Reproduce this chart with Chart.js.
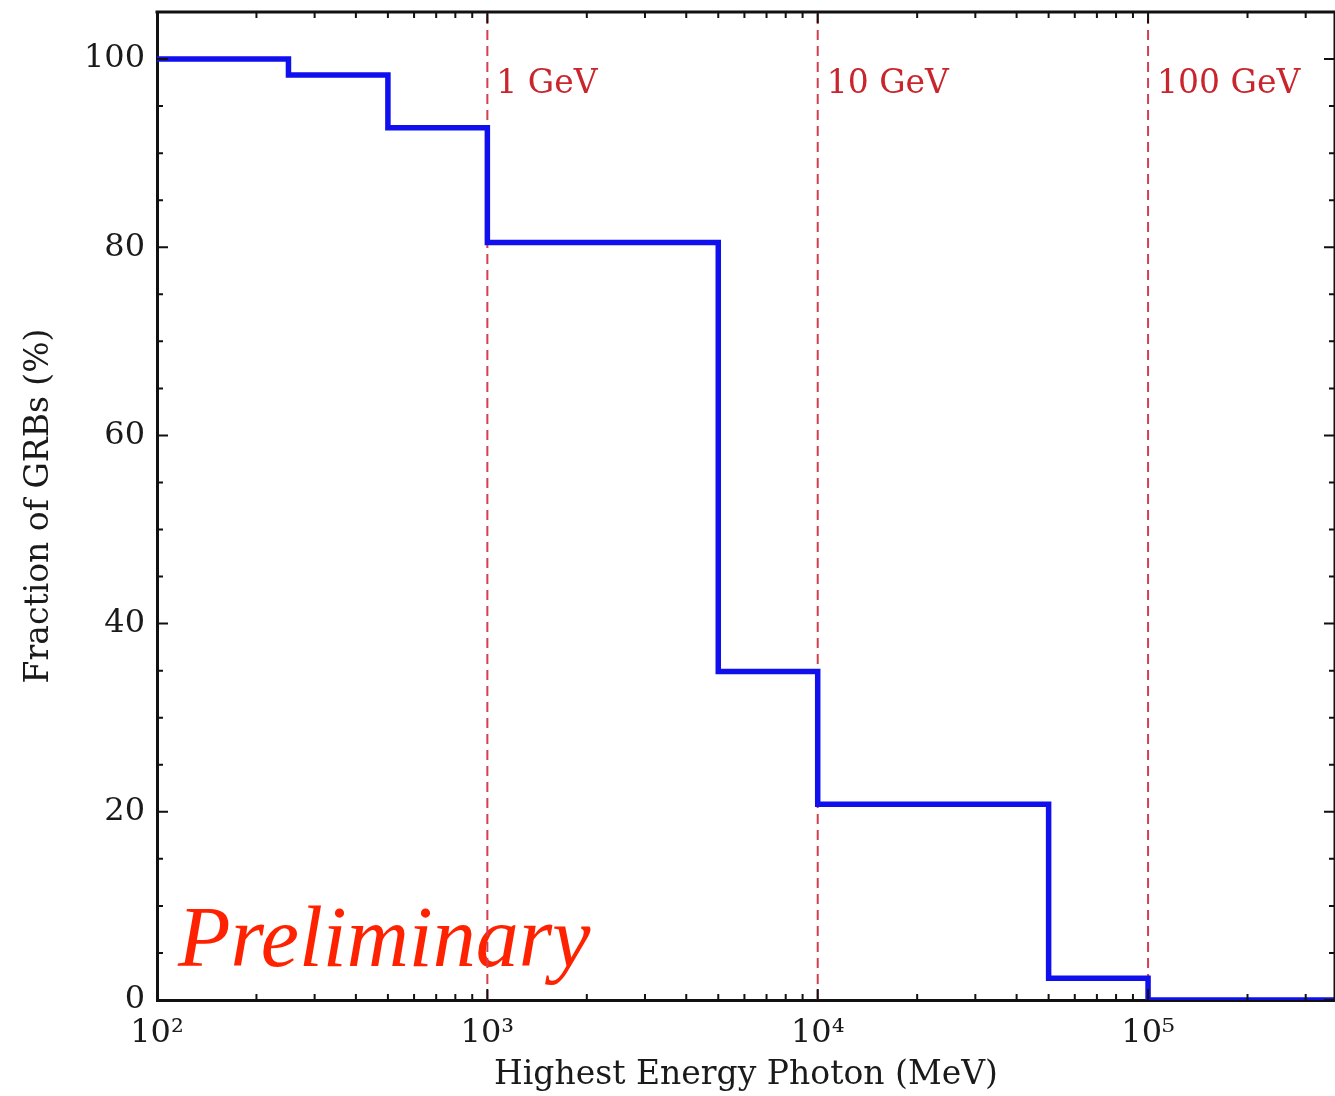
<!DOCTYPE html>
<html><head><meta charset="utf-8">
<script src="https://cdn.jsdelivr.net/npm/chart.js@4.4.1/dist/chart.umd.min.js"></script>
<style>html,body{margin:0;padding:0;background:#fff;overflow:hidden}#wrap{width:1335px;height:1096px;position:relative}</style>
</head><body><div id="wrap"><canvas id="c"></canvas></div>
<script>
// ---- data ----
const stepEdges = [100, 250, 500, 1000, 5000, 10000, 50000, 100000, 368000];
const fractionPct = [100, 98.3, 92.7, 80.5, 34.9, 20.8, 2.3, 0, 0];
const markerEnergies = [1000, 10000, 100000];
const markerLabels = ['1 GeV', '10 GeV', '100 GeV'];
const xTickValues = [100, 1000, 10000, 100000];
const xTickLabels = ['10\u00B2', '10\u00B3', '10\u2074', '10\u2075'];
const yTickValues = [0, 20, 40, 60, 80, 100];
const yMinorValues = [5, 10, 15, 25, 30, 35, 45, 50, 55, 65, 70, 75, 85, 90, 95];
const xTitle = 'Highest Energy Photon (MeV)';
const yTitle = 'Fraction of GRBs (%)';
const watermark = 'Preliminary';
const X_MIN = 100, X_MAX = 368000, Y_MIN = 0, Y_MAX = 105;

const SERIF = '"DejaVu Serif", serif';
const stepData = stepEdges.map((x, i) => ({x, y: fractionPct[i]}));
const markerSets = markerEnergies.map(e => ({
  data: [{x: e, y: Y_MIN}, {x: e, y: Y_MAX}],
  borderColor: '#d2404c', borderWidth: 2, borderDash: [10, 6],
  pointRadius: 0, showLine: true, fill: false
}));

const framePlugin = {
  id: 'frame',
  beforeDatasetsDraw(chart) {
    const {ctx, scales: {x}, chartArea} = chart;
    ctx.save();
    ctx.fillStyle = '#c8252c';
    ctx.font = '33px ' + SERIF;
    ctx.textAlign = 'left';
    ctx.textBaseline = 'middle';
    markerEnergies.forEach((e, i) => {
      ctx.fillText(markerLabels[i], x.getPixelForValue(e) + 9, chartArea.top + 72);
    });
    ctx.fillStyle = '#ff2200';
    ctx.font = 'italic 86px "Liberation Serif", "Times New Roman", serif';
    ctx.textBaseline = 'alphabetic';
    ctx.fillText(watermark, chartArea.left + 21, chartArea.bottom - 34);
    ctx.restore();
  },
  afterDraw(chart) {
    const {ctx, scales: {x, y}, chartArea: a} = chart;
    ctx.save();
    ctx.strokeStyle = '#111';
    ctx.lineWidth = 3;
    ctx.beginPath();
    ctx.moveTo(a.left - 1.5, a.top); ctx.lineTo(a.right, a.top);
    ctx.moveTo(a.right, a.top); ctx.lineTo(a.right, a.bottom);
    ctx.stroke();
    ctx.lineWidth = 2;
    ctx.beginPath();
    for (let d = 2; d <= 5; d++) {
      for (let m = 1; m <= 9; m++) {
        const v = m * Math.pow(10, d);
        if (v < X_MIN || v > X_MAX) continue;
        const px = x.getPixelForValue(v);
        const len = m === 1 ? 11 : 6;
        ctx.moveTo(px, a.bottom); ctx.lineTo(px, a.bottom - len);
        ctx.moveTo(px, a.top); ctx.lineTo(px, a.top + len);
      }
    }
    const yt = yTickValues.map(v => [v, 11]).concat(yMinorValues.map(v => [v, 6]));
    yt.forEach(([v, len]) => {
      const py = y.getPixelForValue(v);
      ctx.moveTo(a.left, py); ctx.lineTo(a.left + len, py);
      ctx.moveTo(a.right, py); ctx.lineTo(a.right - len, py);
    });
    ctx.stroke();
    ctx.restore();
  }
};

new Chart(document.getElementById('c'), {
  type: 'scatter',
  data: {
    datasets: [{
      data: stepData, stepped: true, showLine: true,
      borderColor: '#1010ee', borderWidth: 5.5, pointRadius: 0, fill: false,
      borderJoinStyle: 'miter', borderCapStyle: 'butt'
    }].concat(markerSets)
  },
  options: {
    responsive: true, maintainAspectRatio: false, animation: false,
    layout: {padding: {top: 12, right: 0, left: 0, bottom: 0}},
    plugins: {legend: {display: false}, tooltip: {enabled: false}},
    scales: {
      x: {
        type: 'logarithmic', min: X_MIN, max: X_MAX,
        afterBuildTicks: s => { s.ticks = xTickValues.map(v => ({value: v})); },
        afterFit: s => { s.height = 96; s.paddingLeft = 0; s.paddingRight = 0; },
        grid: {display: false, drawTicks: false},
        border: {display: true, color: '#111', width: 3},
        ticks: {
          autoSkip: false, maxRotation: 0, padding: 14, color: '#1a1a1a',
          font: {family: SERIF, size: 32},
          callback: v => { const i = xTickValues.indexOf(v); return i >= 0 ? xTickLabels[i] : ''; }
        },
        title: {display: true, text: xTitle, color: '#1a1a1a', font: {family: SERIF, size: 33}, padding: {top: 0, bottom: 1}}
      },
      y: {
        type: 'linear', min: Y_MIN, max: Y_MAX,
        afterBuildTicks: s => { s.ticks = yTickValues.map(v => ({value: v})); },
        afterFit: s => { s.width = 157; s.paddingTop = 0; s.paddingBottom = 0; },
        grid: {display: false, drawTicks: false},
        border: {display: true, color: '#111', width: 3},
        ticks: {padding: 12, color: '#1a1a1a', font: {family: SERIF, size: 32}},
        title: {display: true, text: yTitle, color: '#1a1a1a', font: {family: SERIF, size: 33}, padding: {top: 20, bottom: 0}}
      }
    }
  },
  plugins: [framePlugin]
});
</script>
</body></html>
